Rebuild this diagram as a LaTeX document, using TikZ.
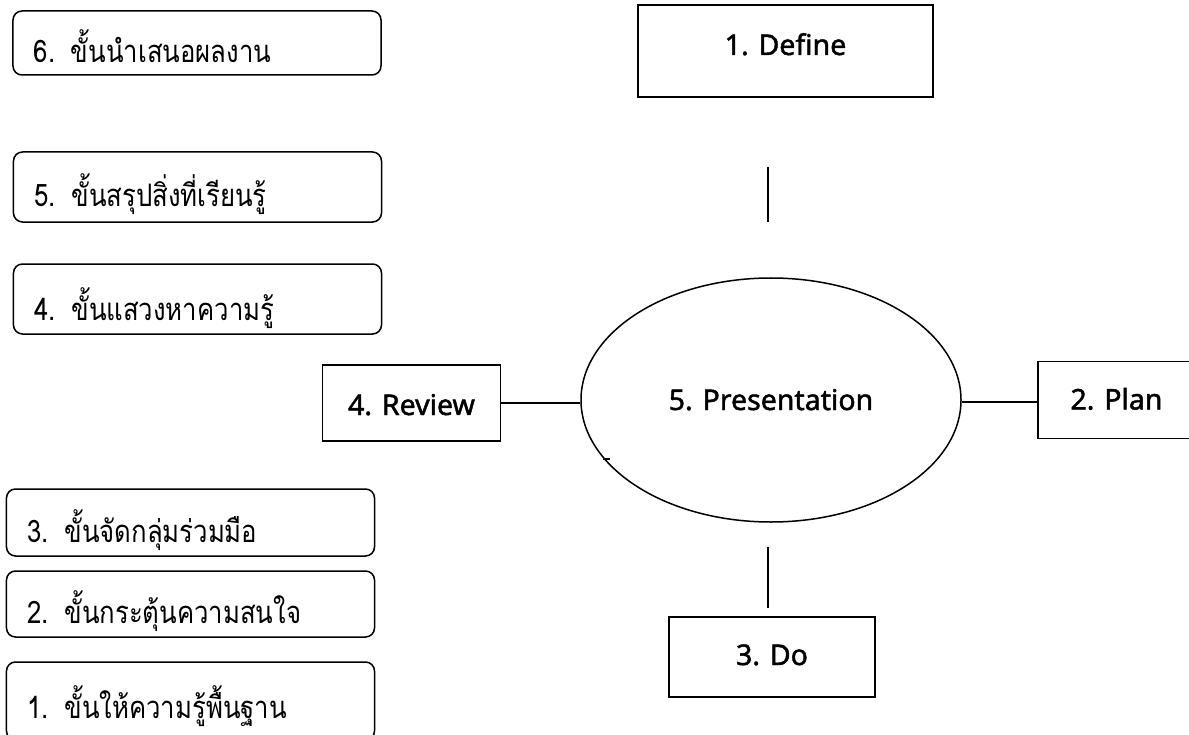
\documentclass[tikz,border=0pt]{standalone}
\usepackage{fontspec}
\setmainfont[Script=Thai, FakeStretch=0.83]{Loma}
\newfontfamily\latfont[FakeBold=1.6]{Noto Sans}
\usetikzlibrary{shapes.geometric}
\newcommand\thaisz{\fontsize{31bp}{34bp}\selectfont}
\newcommand\latsz{\latfont\fontsize{28.5bp}{32bp}\selectfont}
\tikzset{
  tbox/.style={draw, line width=1.5bp, rounded corners=9bp, inner xsep=21bp, inner ysep=0pt,
    text width=326bp, align=left, text depth=0pt, text height=#1, font=\thaisz},
  lbox/.style={draw, line width=1.6bp, inner sep=0pt, text depth=0pt, text height=#1, font=\latsz},
  conn/.style={line width=1.4bp},
}
\begin{document}
\begin{tikzpicture}[x=1bp, y=-1bp]
\useasboundingbox (0,0) rectangle (1189,735);
% Thai step boxes
\node[tbox=40bp, minimum height=64bp] (t6) at (197,43) {6. ขั้นนำเสนอผลงาน};
\node[tbox=40bp, minimum height=70bp] (t5) at (197.5,187) {5. ขั้นสรุปสิ่งที่เรียนรู้};
\node[tbox=42bp, minimum height=70bp] (t4) at (197.5,299) {4. ขั้นแสวงหาความรู้};
\node[tbox=39bp, minimum height=67bp] (t3) at (190.5,522.5) {3. ขั้นจัดกลุ่มร่วมมือ};
\node[tbox=39bp, minimum height=66bp] (t2) at (190.5,604) {2. ขั้นกระตุ้นความสนใจ};
\node[tbox=34bp, minimum height=78bp] (t1) at (190.5,701) {1. ขั้นให้ความรู้พื้นฐาน};
% Right diagram
\node[ellipse, draw, line width=1.5bp, minimum width=380bp, minimum height=244bp, inner sep=0pt,
  text depth=0pt, text height=20bp, font=\latsz] (ell) at (771,400) {5. Presentation};
\node[lbox=8bp, minimum width=295bp, minimum height=92bp] (define) at (785.5,51) {1. Define};
\node[lbox=24bp, minimum width=178bp, minimum height=76bp] (review) at (411.5,403) {4. Review};
\node[lbox=19bp, minimum width=157bp, minimum height=77bp] (plan) at (1116.5,400) {2. Plan};
\node[lbox=16bp, minimum width=206bp, minimum height=80bp] (do) at (772,657) {3. Do};
% connectors
\coordinate (u1) at (768,167);
\coordinate (u2) at (768,222);
\coordinate (b1) at (768,547);
\coordinate (b2) at (768,608);
\draw[conn] (u1) -- (u2);
\draw[conn] (b1) -- (b2);
\draw[conn] (review.east) -- (review.east -| ell.west);
\draw[conn] (ell.east |- 0,402) -- (plan.west |- 0,402);
\coordinate (k1) at (603,459);
\coordinate (k2) at (610,459);
\draw[conn] (k1) -- (k2);
\end{tikzpicture}
\end{document}
